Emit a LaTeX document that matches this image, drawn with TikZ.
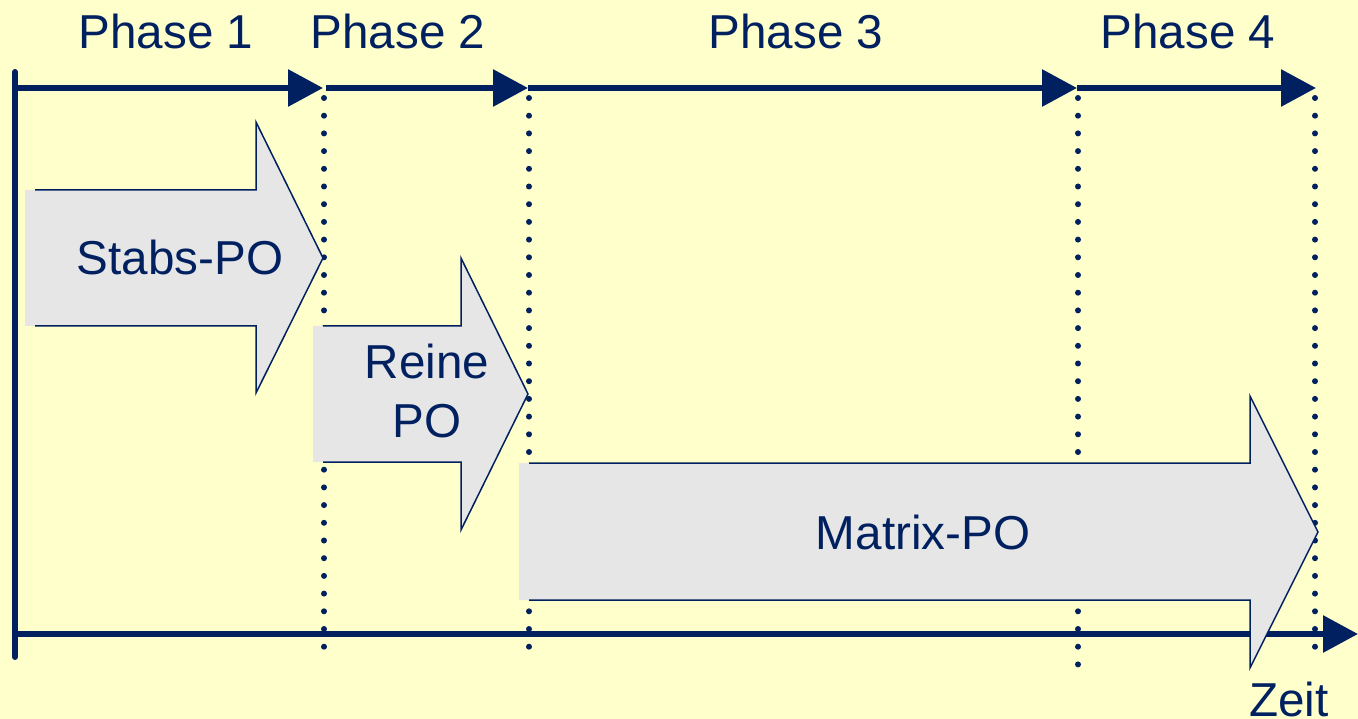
\documentclass[tikz,border=0pt]{standalone}
\usepackage{fontspec}
\setmainfont{Liberation Sans}
\usetikzlibrary{arrows.meta}
\definecolor{bg}{RGB}{255,255,204}
\definecolor{navy}{RGB}{0,32,96}
\definecolor{boxgray}{RGB}{230,230,230}
\tikzset{
  axis/.style={draw=navy, line width=6pt},
  axisarrow/.style={axis, -{Triangle[length=35pt,width=36pt]}},
  dotline/.style={draw=navy, line width=6pt, line cap=round, dash pattern=on 0pt off 17.7pt},
  lbl/.style={text=navy, font=\fontsize{47.6}{50}\selectfont, anchor=base, inner sep=0pt},
  bfill/.style={fill=boxgray, draw=none},
  bline/.style={draw=navy, line width=1.5pt, line join=miter},
}
\begin{document}
\begin{tikzpicture}[x=1pt,y=-1pt]
\fill[bg] (0,0) rectangle (1358,719);
\useasboundingbox (0,0) rectangle (1358,719);

% coordinates
\coordinate (tl) at (15,72);
\coordinate (bl) at (15,657);
\coordinate (t0) at (15,88);
\coordinate (t1) at (323,88);
\coordinate (t1s) at (326,88);
\coordinate (t2) at (528,88);
\coordinate (t3) at (1077,88);
\coordinate (t4) at (1316,88);
\coordinate (b0) at (15,634);
\coordinate (b1) at (1358,634);

% dotted lines
\coordinate (d1a) at (324,98);  \coordinate (d1b) at (324,652);
\coordinate (d2a) at (529,98);  \coordinate (d2b) at (529,652);
\coordinate (d3a) at (1078,98); \coordinate (d3b) at (1078,670);
\coordinate (d4a) at (1315,98); \coordinate (d4b) at (1315,655);

\draw[dotline] (d1a) -- (d1b);
\draw[dotline] (d2a) -- (d2b);
\draw[dotline] (d3a) -- (d3b);
\draw[dotline] (d4a) -- (d4b);

% axes
\draw[axis, line cap=round] (tl) -- (bl);
\draw[axisarrow] (t0) -- (t1);
\draw[axisarrow] (t1s) -- (t2);
\draw[axisarrow] (t2) -- (t3);
\draw[axisarrow] (t3) -- (t4);
\draw[axisarrow] (b0) -- (b1);

% block arrows
% Stabs-PO
\path[bfill] (25,190) -- (256,190) -- (256,122) -- (323,258) -- (256,393) -- (256,326) -- (25,326) -- cycle;
\draw[bline] (35,190) -- (256,190) -- (256,122) -- (323,258) -- (256,393) -- (256,326) -- (35,326);
% Reine PO
\path[bfill] (313,326) -- (461,326) -- (461,258) -- (528,394) -- (461,530) -- (461,462) -- (313,462) -- cycle;
\draw[bline] (323,326) -- (461,326) -- (461,258) -- (528,394) -- (461,530) -- (461,462) -- (323,462);
% Matrix-PO
\path[bfill] (519,463) -- (1250,463) -- (1250,396) -- (1318,532) -- (1250,668) -- (1250,600) -- (519,600) -- cycle;
\draw[bline] (529,463) -- (1250,463) -- (1250,396) -- (1318,532) -- (1250,668) -- (1250,600) -- (529,600);

% labels
\node[lbl] (p1) at (166,49) {Phase 1};
\node[lbl] (p2) at (398,49) {Phase 2};
\node[lbl] (p3) at (796,49) {Phase 3};
\node[lbl] (p4) at (1188,49) {Phase 4};
\node[lbl] (stabs) at (180,275) {Stabs-PO};
\node[lbl] (reine1) at (427,379) {Reine};
\node[lbl] (reine2) at (427,437) {PO};
\node[lbl] (matrix) at (923,549) {Matrix-PO};
\node[lbl] (zeit) at (1289,716) {Zeit};
\end{tikzpicture}
\end{document}
